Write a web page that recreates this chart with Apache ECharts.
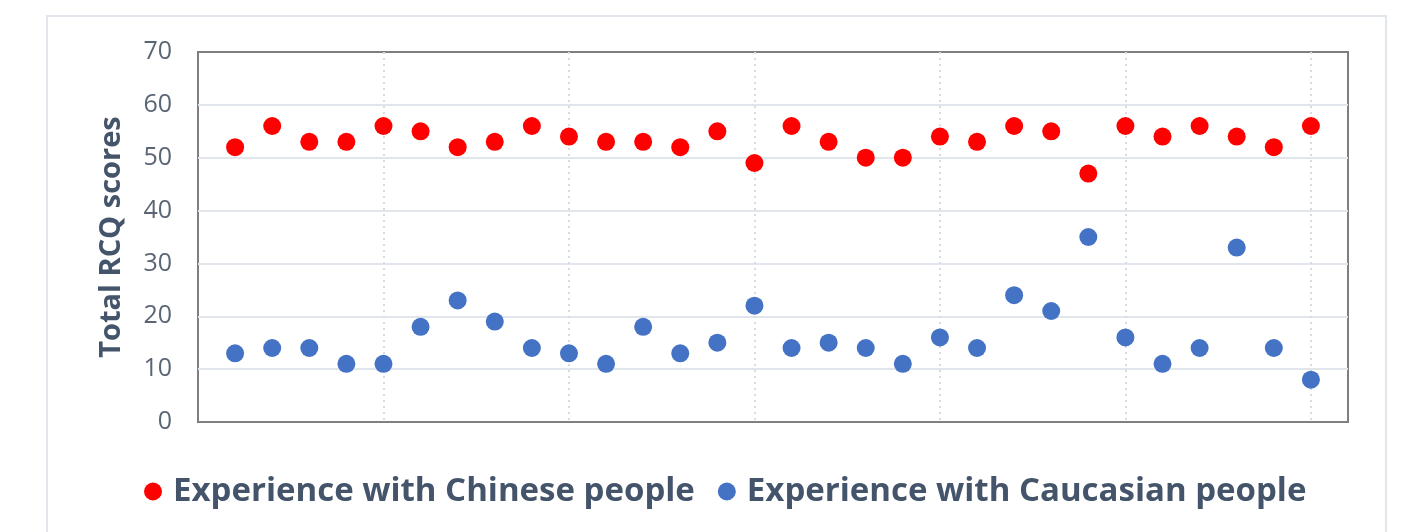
<!DOCTYPE html>
<html>
<head>
<meta charset="utf-8">
<script src="https://cdn.jsdelivr.net/npm/echarts@6/dist/echarts.min.js"></script>
<style>html,body{margin:0;padding:0;background:#fff;}#c{width:1404px;height:532px;}</style>
</head>
<body>
<div id="c"></div>
<script>
const participants = [1,2,3,4,5,6,7,8,9,10,11,12,13,14,15,16,17,18,19,20,21,22,23,24,25,26,27,28,29,30];
const chineseScores = [52,56,53,53,56,55,52,53,56,54,53,53,52,55,49,56,53,50,50,54,53,56,55,47,56,54,56,54,52,56];
const caucasianScores = [13,14,14,11,11,18,23,19,14,13,11,18,13,15,22,14,15,14,11,16,14,24,21,35,16,11,14,33,14,8];
const yTicks = [0,10,20,30,40,50,60,70];
const seriesNames = ['Experience with Chinese people','Experience with Caucasian people'];

const chart = echarts.init(document.getElementById('c'));
chart.setOption({
  animation: false,
  backgroundColor: '#fff',
  graphic: [{
    type: 'rect', left: 46, top: 15, z: -10,
    shape: {width: 1339, height: 540},
    style: {fill: '#fff', stroke: '#e1e5ec', lineWidth: 2}
  }],
  grid: {left: 198, top: 52, right: 56, bottom: 110, show: true, borderColor: '#7f7f7f', borderWidth: 2, backgroundColor: 'transparent'},
  legend: {
    bottom: 19, left: 139,
    itemGap: 23, itemWidth: 18, itemHeight: 18,
    icon: 'circle',
    textStyle: {fontFamily: 'Open Sans', fontWeight: 'bold', fontSize: 33, color: '#44546a', padding: [0, 0, 0, 6]},
    data: seriesNames
  },
  xAxis: {
    type: 'value', min: 0, max: 31, interval: 5,
    axisLine: {show: false}, axisTick: {show: false}, axisLabel: {show: false},
    splitLine: {show: true, showMinLine: false, showMaxLine: false, lineStyle: {color: '#d6dce5', width: 2, type: [2, 4]}}
  },
  yAxis: {
    type: 'value', min: yTicks[0], max: yTicks[yTicks.length-1], interval: 10,
    name: 'Total RCQ scores', nameLocation: 'middle', nameGap: 72,
    nameTextStyle: {fontFamily: 'Open Sans', fontWeight: 'bold', fontSize: 29, color: '#44546a'},
    axisLine: {show: false}, axisTick: {show: false},
    axisLabel: {margin: 26, fontFamily: 'Open Sans', fontSize: 25, color: '#5a6576'},
    splitLine: {show: true, showMinLine: false, showMaxLine: false, lineStyle: {color: '#e1e5ec', width: 2}}
  },
  series: [
    {name: seriesNames[0], type: 'scatter', symbolSize: 18, itemStyle: {color: '#ff0000', opacity: 1},
     data: participants.map((p,i)=>[p, chineseScores[i]])},
    {name: seriesNames[1], type: 'scatter', symbolSize: 18, itemStyle: {color: '#4472c4', opacity: 1},
     data: participants.map((p,i)=>[p, caucasianScores[i]])}
  ]
});
</script>
</body>
</html>
